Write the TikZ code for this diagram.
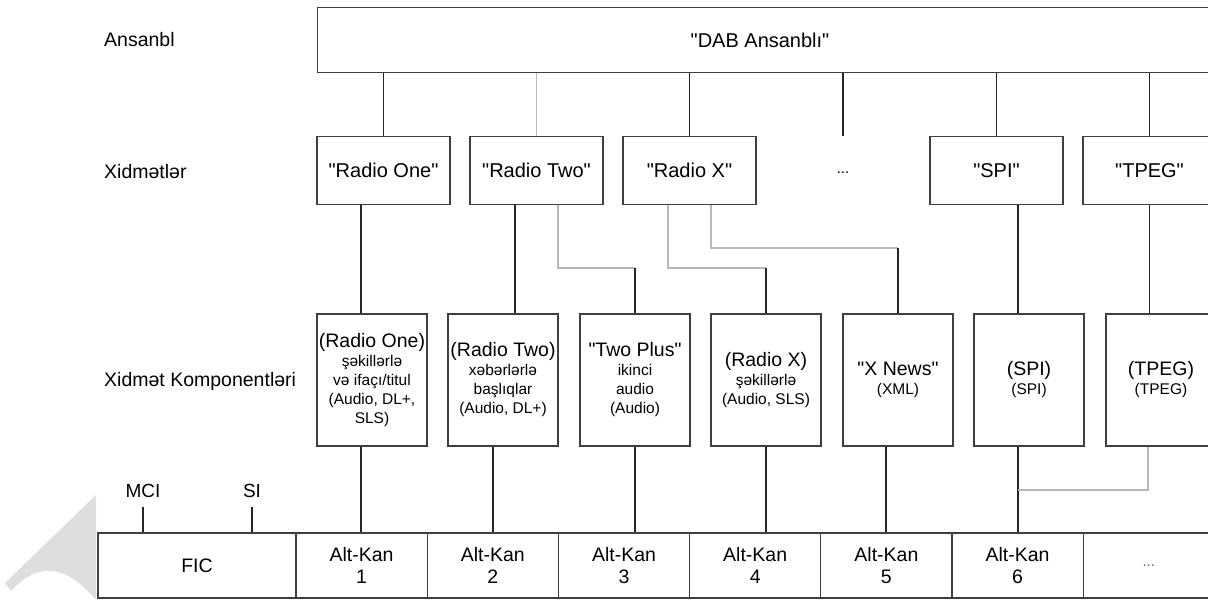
\documentclass[tikz,border=0pt]{standalone}
\usepackage{fontspec}
\setmainfont{Liberation Sans}
% straight double quote, taken straight from the font's glyph table
\newcommand{\dq}{\XeTeXglyph\XeTeXglyphindex "quotedbl"\relax}
\begin{document}
\begin{tikzpicture}[x=1pt,y=-1pt,
  box/.style={draw=black!75, line width=1.1pt, fill=white, inner sep=0pt, align=center},
  svc/.style={box, minimum width=133pt, minimum height=68pt, font=\fontsize{20}{22}\selectfont},
  comp/.style={box, minimum width=110pt, minimum height=132pt, font=\fontsize{15.5}{19}\selectfont},
  cell/.style={box, minimum width=131.2pt, minimum height=65pt, font=\fontsize{19.5}{22}\selectfont},
  lbl/.style={inner sep=0pt, anchor=west, font=\fontsize{19.5}{22}\selectfont},
  wire/.style={draw=black!85, line width=1.1pt},
  faint/.style={draw=black!28, line width=1.1pt}
]
\newcommand{\bigtxt}[1]{{\fontsize{19.5}{19}\selectfont #1}}
\useasboundingbox (0,0) rectangle (1208,601);
\clip (0,0) rectangle (1208,601);

% corner mark
\fill[black!13] (96,495) -- (5,583) -- (11,591) .. controls (35,565) and (62,560) .. (96,600) -- cycle;

% row titles
\node[lbl] (tEns) at (104,40) {Ansanbl};
\node[lbl] (tSvc) at (104,172) {Xidmətlər};
\node[lbl] (tCmp) at (104,381) {Xidmət Komponentləri};

% ensemble
\node[box, minimum width=913pt, minimum height=65pt, anchor=north west] (dab) at (317,7) {};
\node[inner sep=0pt, font=\fontsize{20}{22}\selectfont] (dabtxt) at (760,40) {\dq DAB Ansanblı\dq};

% services
\node[svc] (s1) at (383.5,170.5) {\dq Radio One\dq};
\node[svc] (s2) at (536.5,170.5) {\dq Radio Two\dq};
\node[svc] (s3) at (689.5,170.5) {\dq Radio X\dq};
\node[inner sep=0pt, font=\fontsize{15}{18}\selectfont] (sdots) at (843,173) {...};
\node[svc] (s5) at (996.5,170.5) {\dq SPI\dq};
\node[svc] (s6) at (1149.5,170.5) {\dq TPEG\dq};

% service components
\node[comp] (c1) at (372,380) {\bigtxt{(Radio One)}\\şəkillərlə\\və ifaçı/titul\\(Audio, DL+,\\SLS)};
\node[comp] (c2) at (503,380) {\bigtxt{(Radio Two)}\\xəbərlərlə\\başlıqlar\\(Audio, DL+)};
\node[comp] (c3) at (635,380) {\bigtxt{\dq Two Plus\dq}\\ikinci\\audio\\(Audio)};
\node[comp] (c4) at (766,380) {\bigtxt{(Radio X)}\\şəkillərlə\\(Audio, SLS)};
\node[comp] (c5) at (898,380) {\bigtxt{\dq X News\dq}\\(XML)};
\node[comp] (c6) at (1029,380) {\bigtxt{(SPI)}\\(SPI)};
\node[comp] (c7) at (1161,380) {\bigtxt{(TPEG)}\\(TPEG)};

% multiplex
\node[box, minimum width=198pt, minimum height=65pt, font=\fontsize{19.5}{22}\selectfont] (fic) at (197,565.5) {FIC};
\node[cell] (k1) at (361.6,565.5) {Alt-Kan\\1};
\node[cell] (k2) at (492.8,565.5) {Alt-Kan\\2};
\node[cell] (k3) at (624.0,565.5) {Alt-Kan\\3};
\node[cell] (k4) at (755.2,565.5) {Alt-Kan\\4};
\node[cell] (k5) at (886.4,565.5) {Alt-Kan\\5};
\node[cell] (k6) at (1017.6,565.5) {Alt-Kan\\6};
\node[cell, font=\fontsize{15}{18}\selectfont, text=black!60] (k7) at (1148.8,565.5) {...};

\node[inner sep=0pt, font=\fontsize{19}{22}\selectfont] (mci) at (143,491) {MCI};
\node[inner sep=0pt, font=\fontsize{19}{22}\selectfont] (si) at (252,491) {SI};

% tracks
\coordinate (xa) at (361,0);
\coordinate (xb) at (515,0);
\coordinate (xc) at (558,268);
\coordinate (xd) at (668,268);
\coordinate (xe) at (711,248);
\coordinate (xf) at (1018,0);
\coordinate (xg) at (1148,490);
\coordinate (xh) at (493,0);
\coordinate (xi) at (886,0);
\coordinate (dtop) at (843,136);

% ensemble to services
\draw[wire] (dab.south -| s1.north) -- (s1.north);
\draw[faint] (dab.south -| s2.north) -- (s2.north);
\draw[wire] (dab.south -| s3.north) -- (s3.north);
\draw[wire] (dab.south -| dtop) -- (dtop);
\draw[wire] (dab.south -| s5.north) -- (s5.north);
\draw[wire] (dab.south -| s6.north) -- (s6.north);

% services to components
\draw[wire] (s1.south -| xa) -- (c1.north -| xa);
\draw[wire] (s2.south -| xb) -- (c2.north -| xb);
\draw[faint] (s2.south -| xc) -- (xc) -- (xc -| c3.north);
\draw[wire] (xc -| c3.north) -- (c3.north);
\draw[faint] (s3.south -| xd) -- (xd) -- (xd -| c4.north);
\draw[wire] (xd -| c4.north) -- (c4.north);
\draw[faint] (s3.south -| xe) -- (xe) -- (xe -| c5.north);
\draw[wire] (xe -| c5.north) -- (c5.north);
\draw[wire] (s5.south -| xf) -- (c6.north -| xf);
\draw[wire] (s6.south) -- (c7.north -| s6.south);

% components to sub-channels
\draw[wire] (c1.south -| xa) -- (k1.north -| xa);
\draw[wire] (c2.south -| xh) -- (k2.north -| xh);
\draw[wire] (c3.south) -- (k3.north -| c3.south);
\draw[wire] (c4.south) -- (k4.north -| c4.south);
\draw[wire] (c5.south -| xi) -- (k5.north -| xi);
\draw[wire] (c6.south -| xf) -- (k6.north -| xf);
\draw[faint] (c7.south -| xg) -- (xg) -- (xg -| xf);

% FIC entries
\draw[wire] (mci.south) ++(0,9) -- (fic.north -| mci.south);
\draw[wire] (si.south) ++(0,9) -- (fic.north -| si.south);
\end{tikzpicture}
\end{document}
